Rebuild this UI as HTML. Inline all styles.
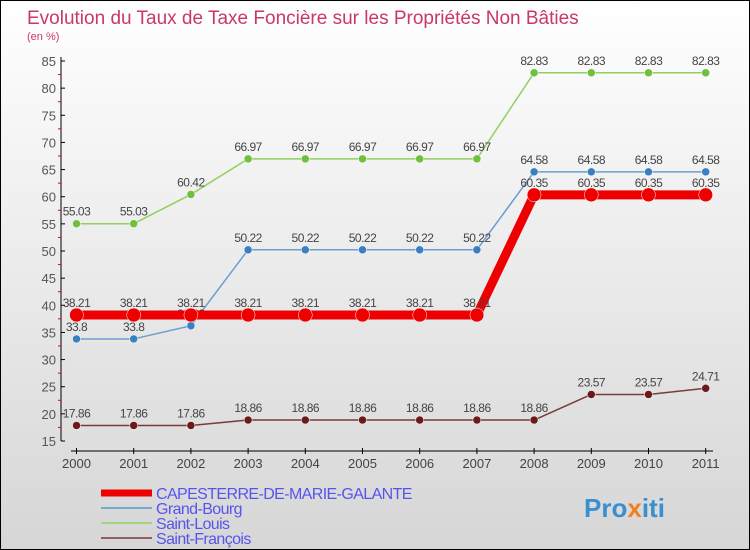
<!DOCTYPE html>
<html><head><meta charset="utf-8"><style>
body{margin:0}
#c{width:748px;height:548px;border:1px solid #000;background:linear-gradient(#ffffff,#d6d6d6);position:relative;font-family:"Liberation Sans",sans-serif}
</style></head><body>
<div id="c">
<svg width="748" height="548" id="svg" style="position:absolute;left:0;top:0">
<text x="26" y="23" font-size="19" fill="#c8386a">Evolution du Taux de Taxe Foncière sur les Propriétés Non Bâties</text>
<text x="26" y="39" font-size="11" fill="#c8386a">(en %)</text>
<g id="axes"></g><g id="series"></g><g id="legend"></g>
<text x="583" y="516" font-size="26" font-weight="bold" fill="#3a8fd0">Pro<tspan fill="#f08020">x</tspan>iti</text>
</svg></div>
<script>
const years=[2000,2001,2002,2003,2004,2005,2006,2007,2008,2009,2010,2011];
const capesterre=[38.21,38.21,38.21,38.21,38.21,38.21,38.21,38.21,60.35,60.35,60.35,60.35];
const grandBourg=[33.8,33.8,36.23,50.22,50.22,50.22,50.22,50.22,64.58,64.58,64.58,64.58];
const saintLouis=[55.03,55.03,60.42,66.97,66.97,66.97,66.97,66.97,82.83,82.83,82.83,82.83];
const saintFrancois=[17.86,17.86,17.86,18.86,18.86,18.86,18.86,18.86,18.86,23.57,23.57,24.71];
const yTicks=[15,20,25,30,35,40,45,50,55,60,65,70,75,80,85];
const NS="http://www.w3.org/2000/svg";
function X(i){return 75.5+i*57.2}
function Y(v){return 440-(v-15)*380/70}
function mk(t,a,p){const e=document.createElementNS(NS,t);for(const k in a)e.setAttribute(k,a[k]);p.appendChild(e);return e}
const ax=document.getElementById('axes');
let l=mk('line',{x1:60,y1:56,x2:60,y2:440,stroke:'#000'},ax);

yTicks.forEach(v=>{mk('line',{x1:60,x2:64,y1:Y(v),y2:Y(v),stroke:'#000'},ax);
 if(v<85)mk('line',{x1:57,x2:60,y1:Y(v+2.5),y2:Y(v+2.5),stroke:'#e00'},ax);
 const t=mk('text',{x:55,y:Y(v)+5,'font-size':13,fill:'#555','text-anchor':'end'},ax);t.textContent=v;
 });
l=mk('line',{x1:70,y1:450,x2:712,y2:450,stroke:'#000'},ax);

years.forEach((y,i)=>{mk('line',{x1:X(i),x2:X(i),y1:447,y2:453,stroke:'#000'},ax);
 const t=mk('text',{x:X(i),y:467,'font-size':13,fill:'#444','text-anchor':'middle'},ax);t.textContent=y;
 });
const sg=document.getElementById('series');
const defs=[
 [saintFrancois,'#7a3a3a','#6a1a1a',1.5,4,'saint-francois'],
 [grandBourg,'#6a9fd0','#3a80c0',1.5,4,'grand-bourg'],
 [saintLouis,'#90d060','#70c040',1.5,4,'saint-louis'],
 [capesterre,'#ee0000','#ee0000',9,7,'capesterre']];
defs.forEach(([d,c,m,w,r,n])=>{
 const g=mk('g',{},sg);
 const p=mk('polyline',{points:d.map((v,i)=>X(i)+','+Y(v)).join(' '),fill:'none',stroke:c,'stroke-width':w,'stroke-linejoin':'round'},g);
 
 d.forEach((v,i)=>{const cc=mk('circle',{cx:X(i),cy:Y(v),r:r,fill:m,stroke:'#fff','stroke-width':0.5},g);
  
  const t=mk('text',{x:X(i),y:Y(v)-8,'font-size':12,fill:'#444','text-anchor':'middle','letter-spacing':'-0.5'},g);t.textContent=v;
  });
});
const lg=document.getElementById('legend');
[['CAPESTERRE-DE-MARIE-GALANTE','#ee0000',7],['Grand-Bourg','#7aaad0',2],['Saint-Louis','#a0d880',2],['Saint-François','#906060',2]].forEach(([n,c,w],i)=>{
 const y=492+i*15;
 const ln=mk('line',{x1:100,x2:151,y1:y,y2:y,stroke:c,'stroke-width':w},lg);
 
 const t=mk('text',{x:155,y:y+6,'font-size':16,fill:'#5555ee','letter-spacing':'-0.6'},lg);t.textContent=n;
 });
</script></body></html>
